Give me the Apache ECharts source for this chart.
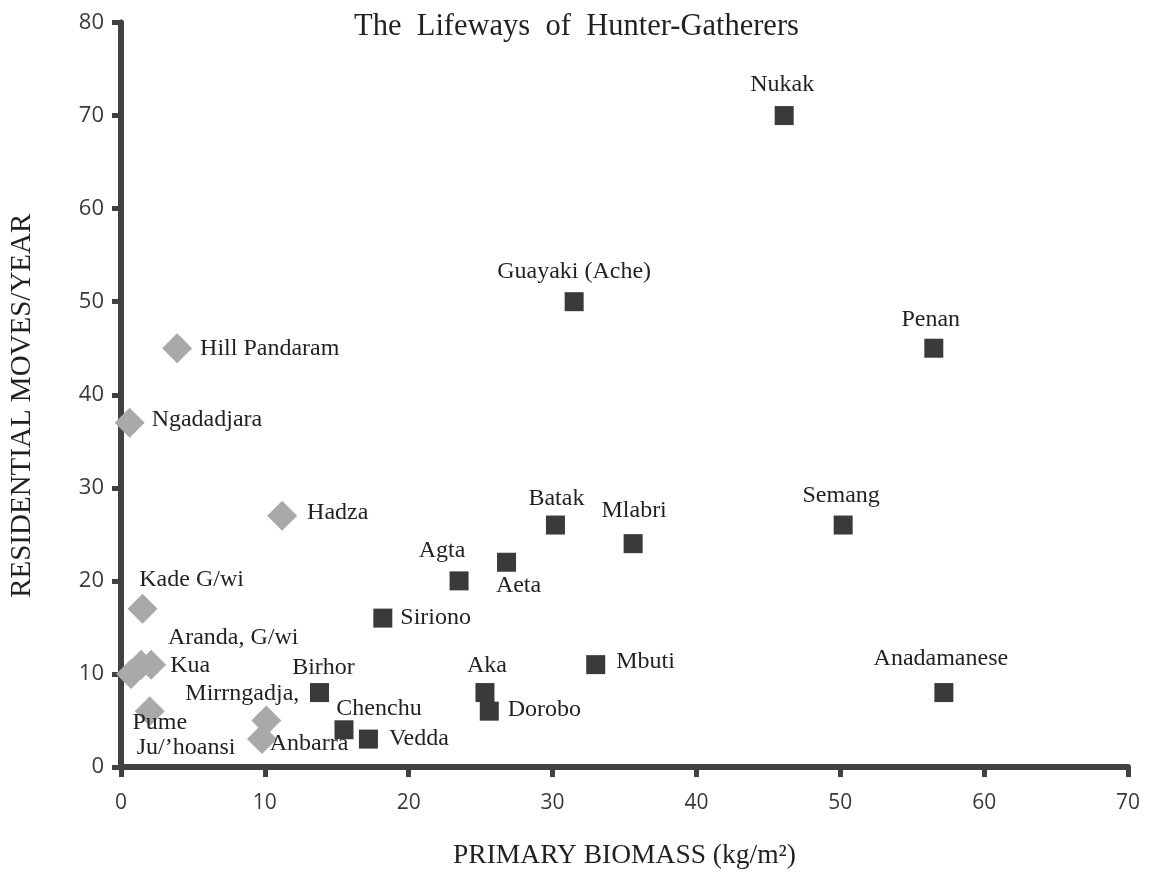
<!DOCTYPE html>
<html>
<head>
<meta charset="utf-8">
<script src="https://cdn.jsdelivr.net/npm/echarts@6/dist/echarts.min.js"></script>
<style>
html,body{margin:0;padding:0;background:#fff;}
#chart{width:1153px;height:875px;}
</style>
</head>
<body>
<div id="chart"></div>
<script>
// ---- data ----
const squareNames = ['Nukak','Guayaki (Ache)','Penan','Semang','Anadamanese','Batak','Mlabri','Agta','Aeta','Aka','Dorobo','Mbuti','Siriono','Birhor','Chenchu','Vedda'];
const squareX = [46.1, 31.5, 56.5, 50.2, 57.2, 30.2, 35.6, 23.5, 26.8, 25.3, 25.6, 33.0, 18.2, 13.8, 15.5, 17.2];
const squareY = [70, 50, 45, 26, 8, 26, 24, 20, 22, 8, 6, 11, 16, 8, 4, 3];

const diamondNames = ['Hill Pandaram','Ngadadjara','Hadza','Kade G/wi','Aranda, G/wi','Kua','Ju/\u2019hoansi','Pume','Mirrngadja,','Anbarra'];
const diamondX = [3.9, 0.6, 11.2, 1.5, 2.1, 1.4, 0.7, 2.0, 10.1, 9.8];
const diamondY = [45, 37, 27, 17, 11, 11, 10, 6, 5, 3];

const xTicks = [0, 10, 20, 30, 40, 50, 60, 70];
const yTicks = [0, 10, 20, 30, 40, 50, 60, 70, 80];

// ---- label placement (style) ----
const labelPlace = {
  'Nukak': {position:'inside', offset:[-2,-31]},
  'Guayaki (Ache)': {position:'inside', offset:[0,-30]},
  'Penan': {position:'inside', offset:[-3,-29]},
  'Semang': {position:'inside', offset:[-2,-29]},
  'Anadamanese': {position:'inside', offset:[-3,-34]},
  'Batak': {position:'inside', offset:[1,-26]},
  'Mlabri': {position:'inside', offset:[1,-33]},
  'Agta': {position:'inside', offset:[-17,-30]},
  'Aeta': {position:'inside', offset:[12,23]},
  'Aka': {position:'inside', offset:[2,-27]},
  'Dorobo': {position:'right', distance:9, offset:[0,-1]},
  'Mbuti': {position:'right', distance:11, offset:[0,-3]},
  'Siriono': {position:'right', distance:8},
  'Birhor': {position:'inside', offset:[4,-25]},
  'Chenchu': {position:'inside', offset:[35,-21]},
  'Vedda': {position:'right', distance:11},
  'Hill Pandaram': {position:'right', distance:8},
  'Ngadadjara': {position:'right', distance:7, offset:[0,-3]},
  'Hadza': {position:'right', distance:10, offset:[0,-3]},
  'Kade G/wi': {position:'inside', offset:[49,-29]},
  'Aranda, G/wi': {position:'inside', offset:[82,-27]},
  'Kua': {position:'right', distance:14, offset:[0,1]},
  'Ju/\u2019hoansi': {position:'inside', offset:[55,74]},
  'Pume': {position:'inside', offset:[10,12]},
  'Mirrngadja,': {position:'inside', offset:[-24,-27]},
  'Anbarra': {position:'inside', offset:[47,5]}
};

const serif = '"Liberation Serif", "DejaVu Serif", serif';
const sans = '"Open Sans", "DejaVu Sans", sans-serif';
const axisColor = '#414141';
const textColor = '#231f20';

function build(names, xs, ys) {
  return names.map((n, i) => ({
    name: n,
    value: [xs[i], ys[i]],
    label: Object.assign({show: true}, labelPlace[n] || {})
  }));
}

const labelStyle = {
  show: true,
  formatter: '{b}',
  fontFamily: serif,
  fontSize: 24,
  color: textColor
};

const chart = echarts.init(document.getElementById('chart'), null, {renderer: 'canvas'});
chart.setOption({
  backgroundColor: '#ffffff',
  animation: false,
  title: {
    text: 'The  Lifeways  of  Hunter-Gatherers',
    left: 'center',
    top: 6,
    textStyle: {fontFamily: serif, fontSize: 30.5, fontWeight: 'normal', color: textColor}
  },
  grid: {left: 117, right: 25, top: 22.5, bottom: 104.3, containLabel: false},
  xAxis: {
    type: 'value',
    min: xTicks[0],
    max: xTicks[xTicks.length - 1],
    interval: 10,
    name: 'PRIMARY BIOMASS (kg/m\u00B2)',
    nameLocation: 'middle',
    nameGap: 75,
    nameTextStyle: {fontFamily: serif, fontSize: 27.5, color: textColor},
    axisLine: {show: true, onZero: false, lineStyle: {color: axisColor, width: 6}},
    axisTick: {show: true, length: 10, lineStyle: {color: axisColor, width: 5}},
    axisLabel: {margin: 26, fontFamily: sans, fontSize: 21, color: '#3a3a3a'},
    splitLine: {show: false}
  },
  yAxis: {
    type: 'value',
    min: yTicks[0],
    max: yTicks[yTicks.length - 1],
    interval: 10,
    name: 'RESIDENTIAL MOVES/YEAR',
    nameLocation: 'middle',
    nameGap: 84,
    nameTextStyle: {fontFamily: serif, fontSize: 29, color: textColor, padding: [0, 22, 0, 0]},
    axisLine: {show: true, onZero: false, lineStyle: {color: axisColor, width: 6}},
    axisTick: {show: true, length: 9, lineStyle: {color: axisColor, width: 5}},
    axisLabel: {margin: 17, fontFamily: sans, fontSize: 22, color: '#3a3a3a'},
    splitLine: {show: false}
  },
  series: [
    {
      name: 'diamonds',
      type: 'scatter',
      symbol: 'diamond',
      symbolSize: [30, 30],
      itemStyle: {color: '#a9a9a9', opacity: 1},
      label: labelStyle,
      data: build(diamondNames, diamondX, diamondY),
      z: 3
    },
    {
      name: 'squares',
      type: 'scatter',
      symbol: 'rect',
      symbolSize: 19,
      itemStyle: {color: '#3a3a3d', opacity: 1},
      label: labelStyle,
      data: build(squareNames, squareX, squareY),
      z: 4
    }
  ]
});
</script>
</body>
</html>
